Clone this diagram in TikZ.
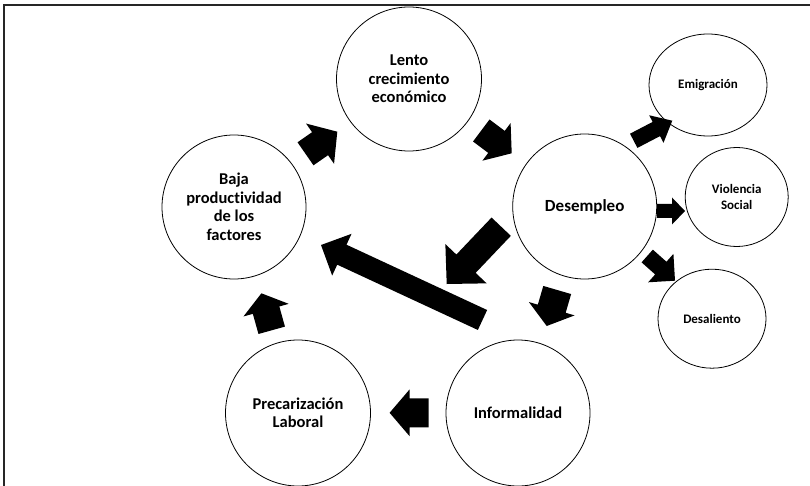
\documentclass[tikz,border=0pt]{standalone}
\usepackage{fontspec}
\setmainfont{Carlito}[Ligatures=NoCommon]
\usetikzlibrary{shapes.geometric,calc}
\tikzset{
  bubble/.style={draw=black, line width=0.8pt, ellipse, inner sep=0pt, align=center,
    font=\bfseries\fontsize{16.5}{18.5}\selectfont},
  smallbubble/.style={bubble, font=\bfseries\fontsize{13}{15.5}\selectfont},
  arrowfill/.style={fill=black},
  frameline/.style={line width=1.8pt, draw=black!85}
}
\newcommand\blockarr[6]{%
  \coordinate (#1b) at ($(#3)!#6!(#2)$);
  \fill[arrowfill] ($(#2)!#4!90:(#3)$) -- ($(#1b)!#4!90:(#3)$) -- ($(#1b)!#5!90:(#3)$)
    -- (#3) -- ($(#1b)!#5!-90:(#3)$) -- ($(#1b)!#4!-90:(#3)$) -- ($(#2)!#4!-90:(#3)$) -- cycle;
}
\begin{document}
\begin{tikzpicture}[x=1pt,y=-1pt]
\useasboundingbox (0,0) rectangle (810,486);
\clip (0,0) rectangle (810,486);
\fill[white] (0,0) rectangle (810,486);
% frame
\draw[frameline] (4,490) -- (4,5) -- (815,5);
% circles
\node[bubble, minimum width=145pt, minimum height=144pt] (lento) at (409,79) {Lento\\crecimiento\\económico};
\node[bubble, minimum width=144pt, minimum height=144pt] (baja) at (234,207) {Baja\\productividad\\de los\\factores};
\node[bubble, minimum width=144pt, minimum height=145pt, font=\bfseries\fontsize{17}{19}\selectfont] (des) at (584.7,206.5) {Desempleo};
\node[smallbubble, minimum width=118pt, minimum height=102pt] (emi) at (708,85) {\raisebox{-5pt}{Emigración}};
\node[smallbubble, minimum width=103pt, minimum height=99pt] (vio) at (736.7,197) {Violencia\\Social};
\node[smallbubble, minimum width=108pt, minimum height=99pt] (desa) at (712,318.7) {Desaliento};
\node[bubble, minimum width=144pt, minimum height=146pt] (inf) at (518,413) {Informalidad};
\node[bubble, minimum width=145pt, minimum height=146pt] (pre) at (298,413) {Precarización\\Laboral};
% arrow end points
\coordinate (a1t) at (305.5,153.8);  \coordinate (a1h) at (337.3,131.7);
\coordinate (a2t) at (481.3,130.5);  \coordinate (a2h) at (511.7,153.3);
\coordinate (a3t) at (633.7,140.8);  \coordinate (a3h) at (672.3,120.7);
\coordinate (a4t) at (657,211);      \coordinate (a4h) at (685,211);
\coordinate (a5t) at (647.2,256);    \coordinate (a5h) at (675,280.7);
\coordinate (a6t) at (557.2,290);    \coordinate (a6h) at (546.7,326);
\coordinate (a7t) at (501.2,226.7);  \coordinate (a7h) at (446.7,284);
\coordinate (a8t) at (482.5,320);    \coordinate (a8h) at (321,245);
\coordinate (a9t) at (428.6,412.8);  \coordinate (a9h) at (389.6,412.8);
\coordinate (a10t) at (271.7,330.3); \coordinate (a10h) at (261.4,293.3);
% block arrows
\blockarr{a1}{a1t}{a1h}{14pt}{24.5pt}{21pt}
\blockarr{a2}{a2t}{a2h}{13.75pt}{23.5pt}{19pt}
\blockarr{a3}{a3t}{a3h}{8pt}{15.5pt}{18pt}
\blockarr{a4}{a4t}{a4h}{7pt}{13.5pt}{13pt}
\blockarr{a5}{a5t}{a5h}{8.5pt}{19pt}{19pt}
\blockarr{a6}{a6t}{a6h}{14.5pt}{23.8pt}{18pt}
\blockarr{a7}{a7t}{a7h}{13.3pt}{28.5pt}{28pt}
\blockarr{a8}{a8t}{a8h}{11pt}{23pt}{23pt}
\blockarr{a9}{a9t}{a9h}{14.5pt}{23.4pt}{20pt}
\blockarr{a10}{a10t}{a10h}{13.75pt}{23.5pt}{17.5pt}
\end{tikzpicture}
\end{document}
